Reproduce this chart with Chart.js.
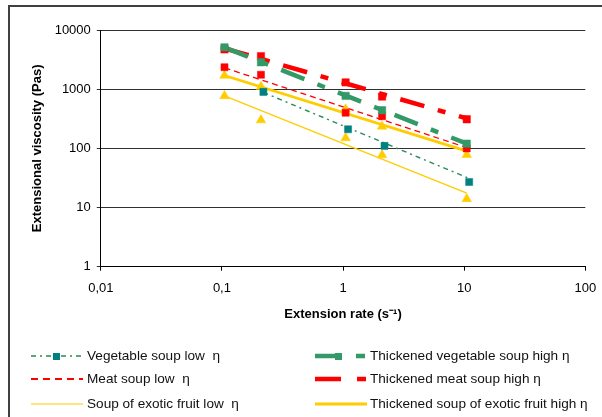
<!DOCTYPE html>
<html>
<head>
<meta charset="utf-8">
<script src="https://cdn.jsdelivr.net/npm/chart.js@4/dist/chart.umd.min.js"></script>
<style>
  html, body { margin: 0; padding: 0; width: 602px; height: 417px; overflow: hidden; background: #fff; }
  #frame { position: absolute; left: 8px; top: 5px; width: 640px; height: 460px; border: 2px solid #404040; box-sizing: border-box; }
  #wrap { position: absolute; left: 0; top: 0; width: 602px; height: 330px; }
  #legend { position: absolute; left: 0; top: 0; width: 602px; height: 417px; pointer-events: none;
            font-family: 'Liberation Sans', Arial, sans-serif; font-size: 13.6px; color: #111; }
  .item { position: absolute; height: 14px; white-space: pre; }
  .item canvas { position: absolute; left: 0; top: 0; }
  .item span { position: absolute; top: -1px; line-height: 16px; }
</style>
</head>
<body>
<div id="frame"></div>
<div id="wrap"><canvas id="c" width="602" height="330"></canvas></div>
<div id="legend"></div>
<script>
// Extension rates (s^-1) at which each soup was measured
const rates = [0.105, 0.21, 1.05, 2.1, 10.5];
const ratesVegLow = [0.22, 1.1, 2.2, 11];

// Measured extensional viscosity (Pas)
const vegLow    = [900, 210, 110, 27];
const vegHigh   = [5100, 2850, 770, 440, 120];
const meatLow   = [2350, 1750, 400, 350, 100];
const meatHigh  = [4700, 3600, 1300, 750, 310];
const fruitLow  = [770, 300, 150, 77, 14];
const fruitHigh = [1700, 1100, 460, 235, 78];

// Power-law trend lines: values at the first and last rate of each series
const vegLowTrend    = [880, 31];
const vegHighTrend   = [5100, 120];
const meatLowTrend   = [2300, 103];
const meatHighTrend  = [4900, 320];
const fruitLowTrend  = [770, 17.5];
const fruitHighTrend = [1700, 90];

// Axis ticks
const xTicks = [0.01, 0.1, 1, 10, 100];
const xTickLabels = ['0,01', '0,1', '1', '10', '100'];
const yTicks = [1, 10, 100, 1000, 10000];
const yTickLabels = ['1', '10', '100', '1000', '10000'];

const seriesNames = [
  'Vegetable soup low  η',
  'Thickened vegetable soup high η',
  'Meat soup low  η',
  'Thickened meat soup high η',
  'Soup of exotic fruit low  η',
  'Thickened soup of exotic fruit high η'
];

const GREEN = '#339966', DASHGREEN = '#2a8a58', TEAL = '#008080', RED = '#ff0000', YELLOW = '#ffcc00';

const pts = (xs, ys) => ys.map((y, i) => ({ x: xs[i], y }));
const ends = (xs, ys) => [{ x: xs[0], y: ys[0] }, { x: xs[xs.length - 1], y: ys[1] }];

function markers(label, xs, ys, style, color, r) {
  return { label, data: pts(xs, ys), showLine: false, pointStyle: style,
           pointRadius: r, pointBackgroundColor: color, pointBorderColor: color, pointBorderWidth: 0.5 };
}
function trend(label, xs, ys, color, width, dash) {
  return { label, data: ends(xs, ys), showLine: true, pointRadius: 0,
           borderColor: color, borderWidth: width, borderDash: dash, fill: false };
}

const datasets = [
  markers(seriesNames[0], ratesVegLow, vegLow, 'rect', TEAL, 5),
  markers(seriesNames[1], rates, vegHigh, 'rect', GREEN, 5.2),
  markers(seriesNames[2], rates, meatLow, 'rect', RED, 5),
  markers(seriesNames[3], rates, meatHigh, 'rect', RED, 5.2),
  markers(seriesNames[4], rates, fruitLow, 'triangle', YELLOW, 5.5),
  markers(seriesNames[5], rates, fruitHigh, 'triangle', YELLOW, 5.5),
  trend(seriesNames[0], ratesVegLow, vegLowTrend, DASHGREEN, 1.4, [5, 4, 2, 4]),
  trend(seriesNames[1], rates, vegHighTrend, GREEN, 4.5, [25, 14, 8, 14]),
  trend(seriesNames[2], rates, meatLowTrend, RED, 1.3, [6, 4]),
  trend(seriesNames[3], rates, meatHighTrend, RED, 4.5, [25, 14, 8, 14]),
  trend(seriesNames[4], rates, fruitLowTrend, YELLOW, 1.2, []),
  trend(seriesNames[5], rates, fruitHighTrend, YELLOW, 2.8, [])
];

const FONT = "'Liberation Sans', Arial, sans-serif";

new Chart(document.getElementById('c'), {
  type: 'scatter',
  data: { datasets },
  options: {
    responsive: false,
    animation: false,
    events: [],
    layout: { padding: { left: 0, right: 0, top: 30, bottom: 0 } },
    plugins: { legend: { display: false }, tooltip: { enabled: false } },
    scales: {
      x: {
        type: 'logarithmic', min: 0.01, max: 100,
        afterBuildTicks: s => { s.ticks = xTicks.map(v => ({ value: v })); },
        afterFit: s => { s.height = 63.3; s.paddingRight = 16.7; s.paddingLeft = 0; },
        ticks: {
          autoSkip: false, maxRotation: 0, padding: 10, color: '#000',
          font: { family: FONT, size: 13 },
          callback: v => xTickLabels[xTicks.indexOf(v)] ?? ''
        },
        grid: { drawOnChartArea: false, drawTicks: true, tickLength: 4, color: '#000' },
        border: { color: '#000', width: 1 },
        title: { display: true, text: 'Extension rate (s⁻¹)', color: '#000',
                 font: { family: FONT, size: 13, weight: 'bold' }, padding: { top: 0, bottom: 8 } }
      },
      y: {
        type: 'logarithmic', min: 1, max: 10000,
        afterBuildTicks: s => { s.ticks = yTicks.map(v => ({ value: v })); },
        afterFit: s => { s.width = 100.8; s.paddingTop = 0; s.paddingBottom = 0; },
        ticks: {
          padding: 6, color: '#000', font: { family: FONT, size: 13 },
          callback: v => yTickLabels[yTicks.indexOf(v)] ?? ''
        },
        grid: { drawOnChartArea: true, drawTicks: true, tickLength: 4, color: '#303030', lineWidth: 1 },
        border: { color: '#000', width: 1 },
        title: { display: true, text: 'Extensional viscosity (Pas)', color: '#000',
                 font: { family: FONT, size: 13, weight: 'bold' }, padding: { top: 30, bottom: 0 } }
      }
    }
  }
});

// Legend: two columns of line samples with their labels
const legendItems = [
  { name: seriesNames[0], x: 31, y: 356, color: DASHGREEN, width: 1.4, dash: [5, 4, 2, 4], marker: TEAL, mx: 25 },
  { name: seriesNames[1], x: 315, y: 356, color: GREEN, width: 4.5, dash: [25, 16, 9, 20], marker: GREEN, mx: 23 },
  { name: seriesNames[2], x: 31, y: 379, color: RED, width: 2, dash: [7, 5] },
  { name: seriesNames[3], x: 315, y: 379, color: RED, width: 4.5, dash: [26, 16, 9, 20] },
  { name: seriesNames[4], x: 31, y: 404, color: YELLOW, width: 1.2, dash: [] },
  { name: seriesNames[5], x: 315, y: 404, color: YELLOW, width: 2.8, dash: [] }
];
const legend = document.getElementById('legend');
legendItems.forEach(it => {
  const div = document.createElement('div');
  div.className = 'item';
  div.style.left = it.x + 'px';
  div.style.top = (it.y - 7) + 'px';
  const cv = document.createElement('canvas');
  cv.width = 54; cv.height = 14;
  const g = cv.getContext('2d');
  g.strokeStyle = it.color; g.lineWidth = it.width; g.setLineDash(it.dash);
  g.beginPath(); g.moveTo(0, 7); g.lineTo(52, 7); g.stroke();
  if (it.marker) { g.fillStyle = it.marker; g.fillRect(it.mx - 3, 4, 7, 7); }
  div.appendChild(cv);
  const sp = document.createElement('span');
  sp.style.left = (it.x < 100 ? 56 : 55) + 'px';
  sp.textContent = it.name;
  div.appendChild(sp);
  legend.appendChild(div);
});
</script>
</body>
</html>
